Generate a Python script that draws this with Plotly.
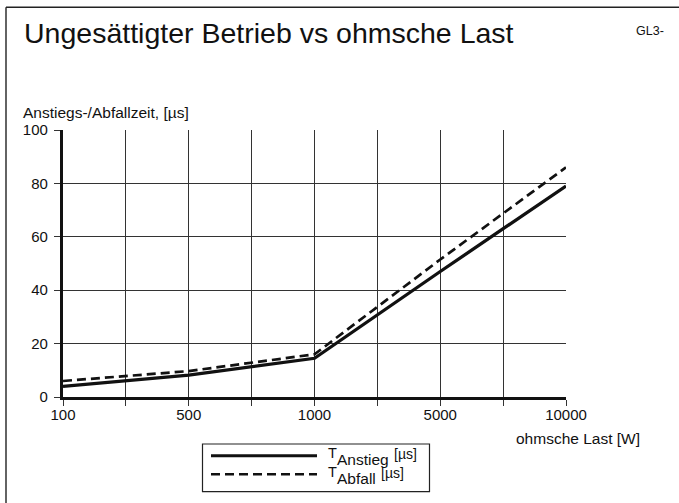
import plotly.graph_objects as go

# ---- data ----
categories = ["100", "500", "1000", "5000", "10000"]
t_anstieg = [4, 8.2, 14.5, 47, 79]
t_abfall = [6, 9.7, 16, 51.5, 86]
y_ticks = [0, 20, 40, 60, 80, 100]

title_text = "Ungesättigter Betrieb vs ohmsche Last"
corner_text = "GL3-"
y_title = "Anstiegs-/Abfallzeit, [µs]"
x_title = "ohmsche Last [W]"
legend_symbol = "T"
legend_subs = ["Anstieg", "Abfall"]
legend_unit = "[µs]"

FONT = "Liberation Sans, Arial, Helvetica, sans-serif"
W, H = 679, 503
L, R, T, B = 63, 566, 130, 397  # plot area in px


def px(xp):
    return (xp - L) / (R - L)


def py(yp):
    return (B - yp) / (B - T)


# category positions: labelled every second gridline
xpos = [2 * i for i in range(len(categories))]
tickvals = list(range(0, 2 * (len(categories) - 1) + 1))
ticktext = []
for v in tickvals:
    ticktext.append(categories[v // 2] if v % 2 == 0 else "")

fig = go.Figure()
fig.add_trace(go.Scatter(x=xpos, y=t_anstieg, mode="lines",
                         line=dict(color="#111111", width=3.3),
                         name="T Anstieg [µs]", showlegend=False))
fig.add_trace(go.Scatter(x=xpos, y=t_abfall, mode="lines",
                         line=dict(color="#111111", width=2.7, dash="9px,5px"),
                         name="T Abfall [µs]", showlegend=False))

fig.update_layout(
    width=W, height=H,
    margin=dict(l=L, r=W - R, t=T, b=H - B, pad=0),
    paper_bgcolor="white", plot_bgcolor="white",
    font=dict(family=FONT, color="#111111", size=15),
    showlegend=False,
)
fig.update_xaxes(
    range=[0, tickvals[-1]], tickvals=tickvals, ticktext=ticktext,
    showgrid=True, gridcolor="#333333", gridwidth=1.3,
    showline=True, linecolor="#111111", linewidth=3.3,
    ticks="outside", ticklen=6, tickwidth=1.3, tickcolor="#333333",
    zeroline=False, tickfont=dict(size=15), fixedrange=True,
    ticklabelstandoff=-4,
)
fig.update_yaxes(
    range=[0, 100], tickvals=y_ticks,
    showgrid=True, gridcolor="#333333", gridwidth=1.3,
    showline=True, linecolor="#111111", linewidth=3.3,
    ticks="outside", ticklen=6, tickwidth=1.3, tickcolor="#333333",
    zeroline=False, tickfont=dict(size=15), fixedrange=True,
    ticklabelstandoff=3,
)

annotations = [
    dict(text=title_text, x=px(22), y=py(33), xanchor="left", yanchor="middle",
         font=dict(size=28.5)),
    dict(text=corner_text, x=px(634), y=py(31), xanchor="left", yanchor="middle",
         font=dict(size=12.5)),
    dict(text=y_title, x=px(21), y=py(112), xanchor="left", yanchor="middle",
         font=dict(size=15.5)),
    dict(text=x_title, x=px(514), y=py(438), xanchor="left", yanchor="middle",
         font=dict(size=15.5)),
]
# legend texts: symbol, subscript and unit (rows)
row_sym_y = [453, 472]
row_sub_y = [459, 478]
row_unit_x = [392, 379]
row_unit_y = [454, 472.5]
for i in range(2):
    annotations.append(dict(text=legend_symbol, x=px(326), y=py(row_sym_y[i]),
                            xanchor="left", yanchor="middle", font=dict(size=14.5)))
    annotations.append(dict(text=legend_subs[i], x=px(335), y=py(row_sub_y[i]),
                            xanchor="left", yanchor="middle", font=dict(size=15.5)))
    annotations.append(dict(text=legend_unit, x=px(row_unit_x[i]), y=py(row_unit_y[i]),
                            xanchor="left", yanchor="middle", font=dict(size=14)))
for a in annotations:
    a.update(xref="paper", yref="paper", showarrow=False)
    a["font"]["color"] = "#111111"
fig.update_layout(annotations=annotations)

shapes = [
    # outer frame (left and top edges)
    dict(type="line", x0=px(6), x1=px(6), y0=py(H + 5), y1=py(7.3),
         line=dict(color="#222222", width=1.4)),
    dict(type="line", x0=px(6), x1=px(W + 5), y0=py(7.3), y1=py(7.3),
         line=dict(color="#222222", width=1.4)),
    # legend box
    dict(type="rect", x0=px(202.5), x1=px(429.5), y0=py(444), y1=py(491.7),
         line=dict(color="#222222", width=1.2), fillcolor="white"),
    dict(type="line", x0=px(211), x1=px(317), y0=py(455.7), y1=py(455.7),
         line=dict(color="#111111", width=3)),
    dict(type="line", x0=px(211), x1=px(317), y0=py(474.3), y1=py(474.3),
         line=dict(color="#111111", width=2.6, dash="9px,5px")),
]
for s in shapes:
    s.update(xref="paper", yref="paper", layer="above")
fig.update_layout(shapes=shapes)

fig.write_html("out.html", config={"displayModeBar": False})

# remove default page margin so the figure sits at the window origin
with open("out.html", "r", encoding="utf-8") as f:
    html = f.read()
html = html.replace("<head>", "<head><style>html,body{margin:0;padding:0;overflow:hidden;}</style>", 1)
with open("out.html", "w", encoding="utf-8") as f:
    f.write(html)
